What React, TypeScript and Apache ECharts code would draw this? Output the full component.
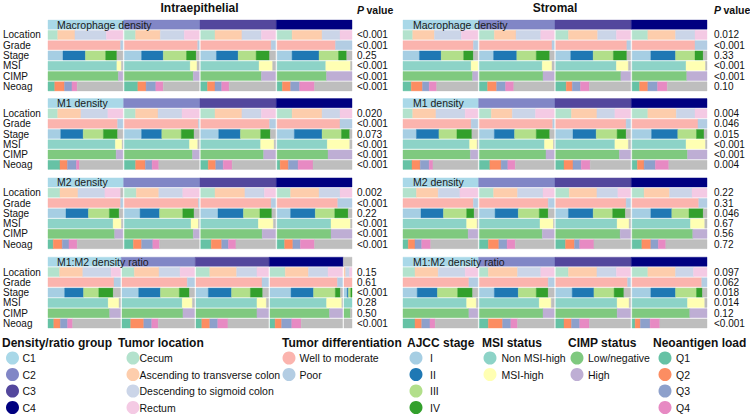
import React, { useEffect, useRef } from 'react';
import * as echarts from 'echarts';

// ---------- categories & colours ----------
const rowLabels = ['Location', 'Grade', 'Stage', 'MSI', 'CIMP', 'Neoag'];
const panelNames = ['Macrophage density', 'M1 density', 'M2 density', 'M1:M2 density ratio'];
const compartments = ['Intraepithelial', 'Stromal'];

const groupCategories = ['C1', 'C2', 'C3', 'C4'];
const groupColors = ['#a9d8e8', '#8186c6', '#53479d', '#000080'];
const missingGroupColor = '#c0c0c0';

const locationCategories = ['Cecum', 'Ascending to transverse colon', 'Descending to sigmoid colon', 'Rectum'];
const locationColors = ['#b3e2cd', '#fdcdac', '#cbd5e8', '#f4cae4'];
const gradeCategories = ['Well to moderate', 'Poor'];
const gradeColors = ['#fbb4ae', '#b3cde3'];
const stageCategories = ['I', 'II', 'III', 'IV'];
const stageColors = ['#a6cee3', '#1f78b4', '#b2df8a', '#33a02c'];
const msiCategories = ['Non MSI-high', 'MSI-high'];
const msiColors = ['#8dd3c7', '#ffffb3'];
const cimpCategories = ['Low/negative', 'High'];
const cimpColors = ['#7fc97f', '#beaed4'];
const neoCategories = ['Q1', 'Q2', 'Q3', 'Q4'];
const neoColors = ['#66c2a5', '#fc8d62', '#8da0cb', '#e78ac3'];
const missingColor = '#bebebe';

const rowColors = [locationColors, gradeColors, stageColors, msiColors, cimpColors, neoColors];

// ---------- data: [variable][group][% per category]; remainder = missing ----------
const intraMacrophage = [
  [[13, 23, 42, 22], [15, 33, 32, 20], [19, 36, 26, 19], [20, 40, 24, 16]],
  [[97, 3], [98, 2], [94, 6], [78, 22]],
  [[20, 30, 27, 15], [23, 29, 31, 13], [21, 29, 24, 18], [20, 36, 26, 11]],
  [[92, 6], [88, 9], [78, 18], [65, 33]],
  [[94, 6], [92, 8], [81, 19], [66, 34]],
  [[9, 13, 10, 7], [18, 11, 13, 10], [9, 10, 9, 10], [7, 11, 12, 20]],
];
const intraM1 = [
  [[13, 31, 36, 20], [15, 30, 32, 23], [19, 36, 26, 19], [20, 40, 24, 16]],
  [[93, 7], [99, 1], [92, 8], [84, 16]],
  [[17, 30, 27, 19], [23, 27, 26, 17], [24, 29, 27, 13], [23, 37, 26, 11]],
  [[90, 9], [87, 11], [80, 18], [67, 30]],
  [[91, 9], [91, 9], [84, 16], [68, 32]],
  [[16, 10, 12, 4], [15, 13, 9, 9], [10, 10, 10, 12], [4, 11, 13, 20]],
];
const intraM2 = [
  [[16, 24, 36, 21], [16, 30, 32, 22], [19, 40, 26, 15], [18, 38, 28, 16]],
  [[97, 3], [99, 1], [94, 6], [81, 19]],
  [[24, 30, 28, 13], [21, 26, 31, 15], [23, 34, 22, 16], [18, 33, 26, 18]],
  [[87, 11], [89, 10], [77, 20], [72, 26]],
  [[89, 11], [92, 8], [82, 18], [72, 28]],
  [[7, 12, 9, 11], [12, 11, 15, 9], [14, 14, 9, 10], [10, 11, 10, 19]],
];
const intraRatio = [
  [[16, 32, 39, 13], [17, 34, 29, 20], [19, 37, 28, 16], [21, 32, 27, 20], [0, 20, 50, 30]],
  [[91, 9], [90, 10], [91, 9], [93, 7], [100, 0]],
  [[23, 26, 21, 20], [23, 30, 26, 14], [17, 32, 26, 17], [29, 31, 30, 7], [40, 15, 30, 15]],
  [[83, 15], [83, 14], [84, 13], [78, 21], [100, 0]],
  [[85, 15], [84, 16], [84, 16], [82, 18], [80, 0]],
  [[8, 9, 10, 7], [12, 18, 11, 9], [8, 11, 11, 14], [7, 9, 14, 13], [0, 0, 0, 0]],
];
const stromalMacrophage = [
  [[13, 29, 36, 22], [20, 29, 33, 18], [17, 39, 25, 19], [21, 37, 26, 16]],
  [[94, 6], [97, 3], [95, 5], [84, 16]],
  [[22, 29, 30, 13], [19, 31, 26, 18], [20, 30, 27, 18], [25, 33, 26, 11]],
  [[91, 9], [84, 13], [81, 16], [72, 26]],
  [[93, 7], [85, 15], [87, 13], [73, 27]],
  [[11, 15, 9, 10], [11, 12, 12, 11], [14, 8, 11, 12], [10, 11, 13, 13]],
];
const stromalM1 = [
  [[13, 31, 39, 17], [16, 28, 31, 25], [21, 34, 24, 21], [21, 38, 25, 16]],
  [[91, 9], [98, 2], [94, 6], [88, 12]],
  [[18, 30, 24, 20], [20, 27, 29, 18], [23, 31, 28, 12], [26, 35, 25, 10]],
  [[89, 10], [87, 12], [79, 18], [72, 26]],
  [[90, 10], [89, 11], [85, 15], [74, 26]],
  [[12, 11, 12, 5], [14, 15, 9, 10], [11, 12, 11, 12], [7, 9, 15, 18]],
];
const stromalM2 = [
  [[18, 29, 29, 24], [19, 32, 34, 15], [18, 37, 28, 17], [16, 34, 30, 20]],
  [[94, 6], [92, 8], [94, 6], [89, 11]],
  [[24, 30, 31, 10], [21, 31, 28, 12], [17, 33, 26, 17], [25, 28, 23, 19]],
  [[85, 14], [81, 18], [82, 16], [78, 19]],
  [[87, 13], [84, 16], [86, 14], [81, 19]],
  [[7, 9, 9, 12], [12, 14, 11, 11], [13, 12, 7, 19], [13, 12, 10, 10]],
];
const stromalRatio = [
  [[16, 31, 36, 17], [12, 39, 31, 18], [17, 38, 26, 19], [21, 37, 24, 18]],
  [[88, 12], [92, 8], [96, 4], [93, 7]],
  [[19, 27, 27, 20], [20, 32, 24, 16], [22, 29, 27, 13], [25, 33, 28, 8]],
  [[85, 13], [80, 16], [82, 16], [74, 23]],
  [[88, 12], [85, 15], [82, 18], [77, 23]],
  [[16, 9, 11, 7], [12, 19, 11, 9], [11, 10, 11, 13], [4, 7, 13, 13]],
];

// relative widths of the groups in each panel (ratio panel has a small missing group)
const equalGroups = [100, 100, 100, 100];
const intraRatioGroups = [100, 100, 100, 100, 11];

// ---------- P values ----------
const pIntraMacrophage = ['<0.001', '<0.001', '0.25', '<0.001', '<0.001', '<0.001'];
const pIntraM1 = ['0.020', '<0.001', '0.073', '<0.001', '<0.001', '<0.001'];
const pIntraM2 = ['0.002', '<0.001', '0.22', '<0.001', '<0.001', '<0.001'];
const pIntraRatio = ['0.15', '0.61', '<0.001', '0.28', '0.50', '<0.001'];
const pStromalMacrophage = ['0.012', '<0.001', '0.33', '<0.001', '<0.001', '0.10'];
const pStromalM1 = ['0.004', '0.046', '0.015', '<0.001', '<0.001', '0.004'];
const pStromalM2 = ['0.22', '0.31', '0.046', '0.67', '0.56', '0.72'];
const pStromalRatio = ['0.097', '0.062', '0.018', '0.014', '0.12', '<0.001'];

const panelsByColumn = [
  [intraMacrophage, intraM1, intraM2, intraRatio],
  [stromalMacrophage, stromalM1, stromalM2, stromalRatio],
];
const pByColumn = [
  [pIntraMacrophage, pIntraM1, pIntraM2, pIntraRatio],
  [pStromalMacrophage, pStromalM1, pStromalM2, pStromalRatio],
];
const groupsByColumn = [
  [equalGroups, equalGroups, equalGroups, intraRatioGroups],
  [equalGroups, equalGroups, equalGroups, equalGroups],
];

// ---------- layout ----------
const FONT = 'Arial, "Liberation Sans", sans-serif';
const COL_LEFT = [47, 403];
const COL_WIDTH = [305, 304];
const P_MARGIN = [5, 7];
const PANEL_TOP = [19.5, 98, 177.3, 256.6];
const PANEL_HEIGHT = 72;
const GROUP_GAP = 2;

function buildPanel(panel: number[][][], weights: number[]) {
  const items: any[] = [];
  let x = 0;
  weights.forEach((w, g) => {
    const x0 = x;
    const x1 = x + w;
    const hc = g < groupColors.length ? groupColors[g] : missingGroupColor;
    items.push({
      value: [g === 0 ? x0 : x0 - GROUP_GAP / 2, g === weights.length - 1 ? x1 : x1 + GROUP_GAP / 2, 0],
      itemStyle: { color: hc },
    });
    panel.forEach((rowVals, v) => {
      const segs = rowVals[g];
      const colors = rowColors[v];
      const sum = segs.reduce((a, b) => a + b, 0);
      const scale = sum > 100 ? 100 / sum : 1;
      let cx = x0;
      segs.forEach((p, k) => {
        if (p <= 0) return;
        const wv = (p * scale * w) / 100;
        items.push({ value: [cx, cx + wv, v + 1], itemStyle: { color: colors[k] } });
        cx += wv;
      });
      if (x1 - cx > 0.01) items.push({ value: [cx, x1, v + 1], itemStyle: { color: missingColor } });
    });
    x = x1 + GROUP_GAP;
  });
  return { items, total: x - GROUP_GAP };
}

function renderRect(params: any, api: any) {
  const a = api.coord([api.value(0), api.value(2)]);
  const b = api.coord([api.value(1), api.value(2)]);
  const h = api.size([0, 1])[1];
  const fill = api.visual('color');
  return {
    type: 'rect',
    shape: { x: a[0], y: a[1] - h / 2 + 0.6, width: Math.max(b[0] - a[0], 0), height: h - 1.2 },
    style: { fill, stroke: fill, lineWidth: 0.4 },
  };
}

function buildOption() {
  const grid: any[] = [];
  const xAxis: any[] = [];
  const yAxis: any[] = [];
  const series: any[] = [];
  const graphic: any[] = [];

  for (let c = 0; c < 2; c++) {
    for (let r = 0; r < 4; r++) {
      const idx = c * 4 + r;
      const { items, total } = buildPanel(panelsByColumn[c][r], groupsByColumn[c][r]);
      grid.push({ left: COL_LEFT[c], top: PANEL_TOP[r], width: COL_WIDTH[c], height: PANEL_HEIGHT });
      xAxis.push({ type: 'value', gridIndex: idx, min: 0, max: total, show: false });
      yAxis.push({
        type: 'category', gridIndex: idx, inverse: true, data: ['', ...rowLabels],
        axisLine: { show: false }, axisTick: { show: false }, splitLine: { show: false },
        axisLabel: { show: c === 0, interval: 0, align: 'left', margin: COL_LEFT[0] - 2, fontSize: 10, lineHeight: 10, color: '#111', fontFamily: FONT },
      });
      yAxis.push({
        type: 'category', gridIndex: idx, inverse: true, position: 'right', data: ['', ...pByColumn[c][r]],
        axisLine: { show: false }, axisTick: { show: false }, splitLine: { show: false },
        axisLabel: { interval: 0, align: 'left', margin: P_MARGIN[c], fontSize: 10, lineHeight: 10, color: '#111', fontFamily: FONT },
      });
      series.push({
        type: 'custom', xAxisIndex: idx, yAxisIndex: idx * 2, renderItem: renderRect, z: 2,
        encode: { x: [0, 1], y: 2 }, data: items, silent: true,
      });
      graphic.push({
        type: 'text', x: COL_LEFT[c] + 10, y: PANEL_TOP[r] + PANEL_HEIGHT / 14, z: 100,
        style: { text: panelNames[r], font: `10.5px ${FONT}`, fill: '#1a1a1a', textAlign: 'left', textVerticalAlign: 'middle' },
      });
    }
    graphic.push({
      type: 'text', x: COL_LEFT[c] + COL_WIDTH[c] / 2, y: 7.5, z: 100,
      style: { text: compartments[c], font: `bold 12px ${FONT}`, fill: '#111', textAlign: 'center', textVerticalAlign: 'middle' },
    });
    const px = COL_LEFT[c] + COL_WIDTH[c] + P_MARGIN[c];
    graphic.push({
      type: 'text', x: px, y: 10, z: 100,
      style: { text: 'P', font: `italic bold 10.5px ${FONT}`, fill: '#111', textAlign: 'left', textVerticalAlign: 'middle' },
    });
    graphic.push({
      type: 'text', x: px + 9.5, y: 10, z: 100,
      style: { text: 'value', font: `bold 10.5px ${FONT}`, fill: '#111', textAlign: 'left', textVerticalAlign: 'middle' },
    });
  }

  // legend
  const legendSections = [
    { title: 'Density/ratio group', x: 2, cx: 12.5, tx: 22.5, names: groupCategories, colors: groupColors },
    { title: 'Tumor location', x: 118, cx: 133, tx: 139.5, names: locationCategories, colors: locationColors },
    { title: 'Tumor differentiation', x: 282, cx: 289, tx: 299.5, names: gradeCategories, colors: gradeColors },
    { title: 'AJCC stage', x: 407, cx: 416, tx: 430, names: stageCategories, colors: stageColors },
    { title: 'MSI status', x: 482, cx: 490, tx: 501.5, names: msiCategories, colors: msiColors },
    { title: 'CIMP status', x: 568, cx: 577, tx: 588, names: cimpCategories, colors: cimpColors },
    { title: 'Neoantigen load', x: 653, cx: 665, tx: 676, names: neoCategories, colors: neoColors },
  ];
  const legendTitleY = 343;
  const legendItemY = [358, 374.5, 391, 407.5];
  legendSections.forEach((s) => {
    graphic.push({
      type: 'text', x: s.x, y: legendTitleY, z: 100,
      style: { text: s.title, font: `bold 12px ${FONT}`, fill: '#111', textAlign: 'left', textVerticalAlign: 'middle' },
    });
    s.names.forEach((n, i) => {
      graphic.push({ type: 'circle', z: 100, shape: { cx: s.cx, cy: legendItemY[i], r: 6.5 }, style: { fill: s.colors[i] } });
      graphic.push({
        type: 'text', x: s.tx, y: legendItemY[i], z: 100,
        style: { text: n, font: `10.5px ${FONT}`, fill: '#111', textAlign: 'left', textVerticalAlign: 'middle' },
      });
    });
  });

  return { animation: false, backgroundColor: '#ffffff', grid, xAxis, yAxis, series, graphic };
}

export default function App() {
  const ref = useRef<HTMLDivElement>(null);
  useEffect(() => {
    if (!ref.current) return;
    const chart = echarts.init(ref.current, undefined, { renderer: 'svg' });
    chart.setOption(buildOption() as any);
    return () => chart.dispose();
  }, []);
  return <div ref={ref} style={{ position: 'fixed', left: 0, top: 0, width: 750, height: 417, background: '#fff' }} />;
}
